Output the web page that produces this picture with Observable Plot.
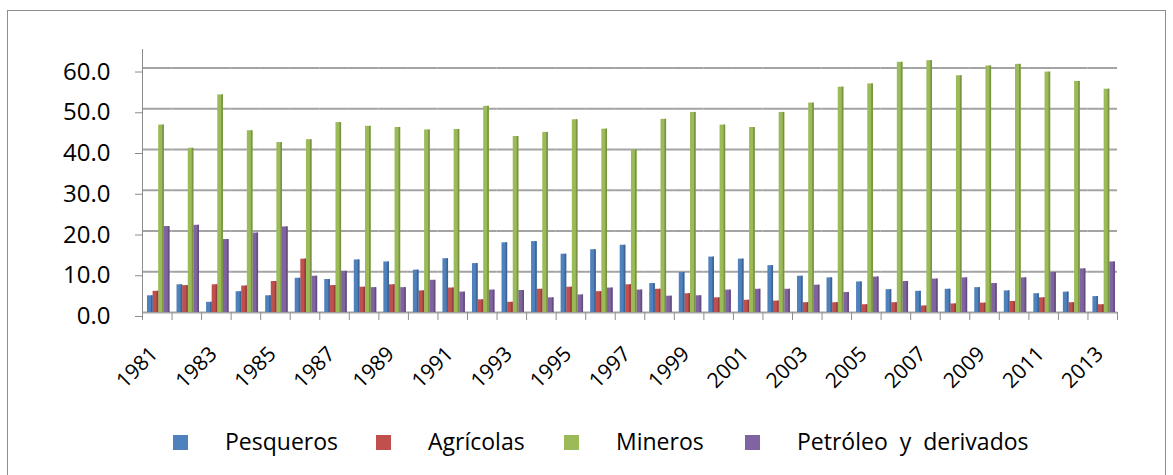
<!DOCTYPE html>
<html><head><meta charset="utf-8">
<script src="https://cdn.jsdelivr.net/npm/d3@7"></script>
<script src="https://cdn.jsdelivr.net/npm/@observablehq/plot@0.6"></script>
<style>
body{margin:0;background:#fff;font-family:"Open Sans",sans-serif;}
#wrap{position:relative;width:1173px;height:475px;overflow:hidden;background:#fff;}
#border{position:absolute;left:7px;top:10px;width:1159px;height:480px;border:1px solid #8e8e8e;box-sizing:border-box;}
#chart{position:absolute;left:0;top:0;}
#legend{position:absolute;top:429px;left:0;height:24px;width:1173px;}
.sw{position:absolute;top:6px;width:15px;height:15px;}
.lt{position:absolute;top:0;font-size:23px;line-height:24px;color:#000;white-space:pre;}
</style></head><body>
<div id="wrap"><div id="border"></div><div id="chart"></div><div id="legend"></div></div>
<script>
const years = [1981,1982,1983,1984,1985,1986,1987,1988,1989,1990,1991,1992,1993,1994,1995,1996,1997,1998,1999,2000,2001,2002,2003,2004,2005,2006,2007,2008,2009,2010,2011,2012,2013];
const seriesNames = ["Pesqueros","Agrícolas","Mineros","Petróleo  y  derivados"];
const colors = ["#4F81BD","#C0504D","#9BBB59","#8064A2"];
const pesqueros = [4.1,6.8,2.5,5.1,4.1,8.4,8.1,12.9,12.4,10.4,13.2,12.0,17.1,17.4,14.3,15.4,16.5,7.1,9.8,13.6,13.1,11.5,8.9,8.5,7.5,5.6,5.2,5.7,6.1,5.3,4.6,5.0,3.9];
const agricolas = [5.2,6.6,6.8,6.5,7.6,13.1,6.6,6.2,6.8,5.3,6.0,3.1,2.5,5.7,6.2,5.1,6.8,5.7,4.6,3.6,3.0,2.8,2.4,2.4,1.9,2.4,1.6,2.1,2.3,2.7,3.6,2.4,1.9];
const mineros = [46.0,40.3,53.4,44.6,41.7,42.4,46.6,45.7,45.4,44.8,44.9,50.6,43.2,44.2,47.3,45.0,39.9,47.4,49.1,46.0,45.4,49.1,51.4,55.3,56.1,61.4,61.8,58.1,60.5,60.9,59.0,56.7,54.8];
const petroleo = [21.1,21.4,17.9,19.5,21.0,8.9,10.1,6.1,6.1,7.9,5.0,5.5,5.4,3.6,4.3,6.0,5.5,4.0,4.1,5.5,5.7,5.7,6.7,4.9,8.7,7.6,8.2,8.5,7.1,8.5,9.8,10.7,12.4];
const yTicks = [0,10,20,30,40,50,60];
const labelYears = years.filter((d,i)=>i%2===0);

const valuesBySeries = [pesqueros, agricolas, mineros, petroleo];
const data = years.flatMap((y,i)=>seriesNames.map((s,j)=>({year:y, series:s, value:valuesBySeries[j][i]})));

const W = 1173, ML = 142, MR = 56;
const step = (W - ML - MR) / years.length;
const axisGray = "#8c8c8c";
const sideColors = colors.map(c => d3.color(c).darker(0.7).formatHex());

const chart = Plot.plot({
  width: W, height: 420,
  marginLeft: ML, marginRight: MR, marginTop: 50, marginBottom: 108,
  fx: {domain: years, padding: 0, round: false, label: null},
  x: {domain: seriesNames, paddingInner: 0, paddingOuter: 0.634, align: 0.7, round: false, axis: null},
  y: {domain: [0, 64.3]},
  color: {domain: seriesNames, range: colors},
  style: {fontFamily: "'Open Sans', sans-serif", background: "transparent", color: "#000"},
  marks: [
    Plot.ruleY(yTicks, {stroke: "#a3a3a3", strokeWidth: 2}),
    Plot.barY(data, {fx: "year", x: "series", y: "value", fill: "series"}),
    ...seriesNames.map((s, j) => Plot.barY(data.filter(d => d.series === s), {fx: "year", x: "series", y: "value", fill: sideColors[j], insetLeft: 4})),
    Plot.frame({anchor: "left", facetAnchor: "left", stroke: axisGray, insetTop: -1}),
    Plot.axisY({ticks: yTicks, tickFormat: d3.format(".1f"), tickSize: 7, tickPadding: 25, fontSize: 24, stroke: axisGray, dy: 4, label: null}),
    Plot.axisFx({anchor: "bottom", tickSize: 8, text: null, dx: -step/2, stroke: axisGray, label: null}),
    Plot.axisFx({anchor: "bottom", ticks: [years[years.length-1]], tickSize: 8, text: null, dx: step/2, stroke: axisGray, label: null}),
    Plot.axisFx({anchor: "bottom", ticks: labelYears, tickFormat: d => `${d}`, tickSize: 0, tickRotate: -45, tickPadding: 34, dx: -3, dy: 4, fontSize: 21, label: null})
  ]
});
document.getElementById("chart").appendChild(chart);

// legend
const legend = document.getElementById("legend");
const swatchX = [173, 376, 564, 745];
seriesNames.forEach((s,i)=>{
  const sw = document.createElement("div");
  sw.className = "sw"; sw.style.left = swatchX[i] + "px"; sw.style.background = colors[i];
  legend.appendChild(sw);
  const t = document.createElement("div");
  t.className = "lt"; t.style.left = (swatchX[i] + 52) + "px"; t.textContent = s;
  legend.appendChild(t);
});
</script>
</body></html>
